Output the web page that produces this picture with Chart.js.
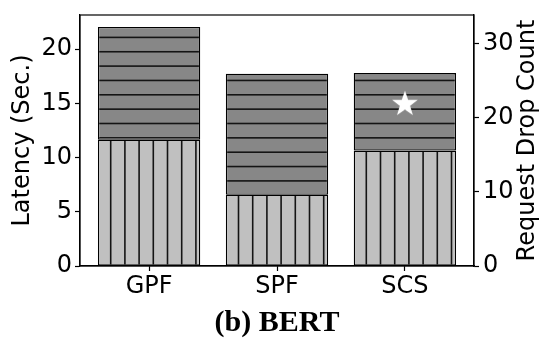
<!DOCTYPE html>
<html><head><meta charset="utf-8">
<script src="https://cdn.jsdelivr.net/npm/chart.js@4/dist/chart.umd.min.js"></script>
<style>html,body{margin:0;padding:0;background:#fff}#wrap{width:542px;height:338px}</style>
</head><body><div id="wrap"><canvas id="c" width="542" height="338"></canvas></div>
<script>
// ---- data ----
const categories = ['GPF', 'SPF', 'SCS'];
const baseLatency = [11.65, 6.58, 10.65];     // lower (vertical hatch) segment
const extraLatency = [10.4, 11.16, 7.15];     // upper (horizontal hatch) segment
const dropCategoryIndex = [2];                // star marker category
const dropCount = [22];                       // request drop count (right axis)
const leftTicks = [0, 5, 10, 15, 20];
const rightTicks = [0, 10, 20, 30];
const xTitle = '(b) BERT';
const yTitle = 'Latency (Sec.)';
const y2Title = 'Request Drop Count';

// ---- styles ----
const FONT = 'DejaVu Sans';
function hatchPattern(fill, vertical, step, offset, count) {
  const size = Math.round(step * count);
  const c = document.createElement('canvas');
  c.width = vertical ? size : 4;
  c.height = vertical ? 4 : size;
  const g = c.getContext('2d');
  g.fillStyle = fill;
  g.fillRect(0, 0, c.width, c.height);
  g.strokeStyle = '#141414';
  g.lineWidth = 1.6;
  for (let k = -1; k <= count + 1; k++) {
    const p = offset + k * (size / count);
    g.beginPath();
    if (vertical) { g.moveTo(p, 0); g.lineTo(p, c.height); }
    else { g.moveTo(0, p); g.lineTo(c.width, p); }
    g.stroke();
  }
  return document.getElementById('c').getContext('2d').createPattern(c, 'repeat');
}
const patLow = hatchPattern('#c0c0c0', true, 14.2, 11.3, 10);
const patHigh = hatchPattern('#878787', false, 14.35, 8.7, 20);

function starImage(sz) {
  const c = document.createElement('canvas');
  c.width = sz; c.height = sz;
  const g = c.getContext('2d');
  const cx = sz / 2, cy = sz / 2 + 1, R = sz / 2 - 0.5, r = R * 0.4;
  g.beginPath();
  for (let i = 0; i < 10; i++) {
    const a = -Math.PI / 2 + i * Math.PI / 5;
    const rr = i % 2 === 0 ? R : r;
    const px = cx + rr * Math.cos(a), py = cy + rr * Math.sin(a);
    if (i === 0) g.moveTo(px, py); else g.lineTo(px, py);
  }
  g.closePath();
  g.fillStyle = '#ffffff';
  g.fill();
  return c;
}

const framePlugin = {
  id: 'frame',
  afterDraw(chart) {
    const { ctx, chartArea: a } = chart;
    ctx.save();
    ctx.strokeStyle = '#000';
    ctx.lineWidth = 1.2;
    ctx.strokeRect(a.left, a.top, a.right - a.left, a.bottom - a.top);
    // right axis title (reads bottom-to-top)
    ctx.translate(534, (a.top + a.bottom) / 2);
    ctx.rotate(-Math.PI / 2);
    ctx.font = '24px "' + FONT + '"';
    ctx.fillStyle = '#000';
    ctx.textAlign = 'center';
    ctx.textBaseline = 'alphabetic';
    ctx.fillText(y2Title, 0, 0);
    ctx.restore();
  }
};

const tickFont = { family: FONT, size: 24 };
const yGrid = { display: true, drawOnChartArea: false, drawTicks: true, tickLength: 5, tickColor: '#000', tickWidth: 1.2 };
const xGrid = Object.assign({}, yGrid, { offset: false });
function noPadV(s) { s.paddingTop = 0; s.paddingBottom = 0; }

new Chart(document.getElementById('c'), {
  type: 'bar',
  data: {
    datasets: [
      {
        label: 'base', yAxisID: 'y', stack: 's', order: 2,
        data: categories.map((c, i) => ({ x: i, y: baseLatency[i] })),
        backgroundColor: patLow, borderColor: '#000', borderWidth: 1.3, borderSkipped: false,
        categoryPercentage: 0.8, barPercentage: 1
      },
      {
        label: 'extra', yAxisID: 'y', stack: 's', order: 2,
        data: categories.map((c, i) => ({ x: i, y: extraLatency[i] })),
        backgroundColor: patHigh, borderColor: '#000', borderWidth: 1.3, borderSkipped: false,
        categoryPercentage: 0.8, barPercentage: 1
      },
      {
        type: 'scatter', label: 'drops', yAxisID: 'y2', order: 0,
        data: dropCategoryIndex.map((ci, k) => ({ x: ci, y: dropCount[k] })),
        pointStyle: starImage(28), pointRadius: 14
      }
    ]
  },
  options: {
    responsive: false, animation: false, devicePixelRatio: 1,
    layout: { padding: { top: 10, left: 0, right: 0, bottom: 0 } },
    plugins: { legend: { display: false }, tooltip: { enabled: false } },
    scales: {
      x: {
        type: 'linear', min: -0.54, max: 2.54, stacked: true, offset: false,
        afterBuildTicks: s => { s.ticks = categories.map((c, i) => ({ value: i })); },
        ticks: { callback: v => categories[v], font: tickFont, color: '#000', padding: 1, autoSkip: false, maxRotation: 0 },
        grid: xGrid,
        border: { display: true, color: '#000', width: 1.2 },
        title: { display: true, text: xTitle, color: '#000',
          font: { family: 'Liberation Serif', weight: 'bold', size: 30, lineHeight: 1 },
          padding: { top: 0, bottom: 0 } },
        afterFit: s => { s.height = 72; s.paddingLeft = 0; s.paddingRight = 0; }
      },
      y: {
        position: 'left', min: 0, max: 23.16, stacked: true,
        afterBuildTicks: s => { s.ticks = leftTicks.map(v => ({ value: v })); },
        ticks: { font: tickFont, color: '#000', padding: 3 },
        grid: yGrid,
        border: { display: true, color: '#000', width: 1.2 },
        title: { display: true, text: yTitle, color: '#000', font: { family: FONT, size: 24, lineHeight: 1 }, padding: { top: 10.5, bottom: 0 } },
        afterFit: s => { s.width = 80; noPadV(s); }
      },
      y2: {
        position: 'right', min: 0, max: 33.9, stacked: false,
        afterBuildTicks: s => { s.ticks = rightTicks.map(v => ({ value: v })); },
        ticks: { font: tickFont, color: '#000', padding: 4 },
        grid: yGrid,
        border: { display: true, color: '#000', width: 1.2 },
        afterFit: s => { s.width = 68; noPadV(s); }
      }
    }
  },
  plugins: [framePlugin]
});
</script>
</body></html>
